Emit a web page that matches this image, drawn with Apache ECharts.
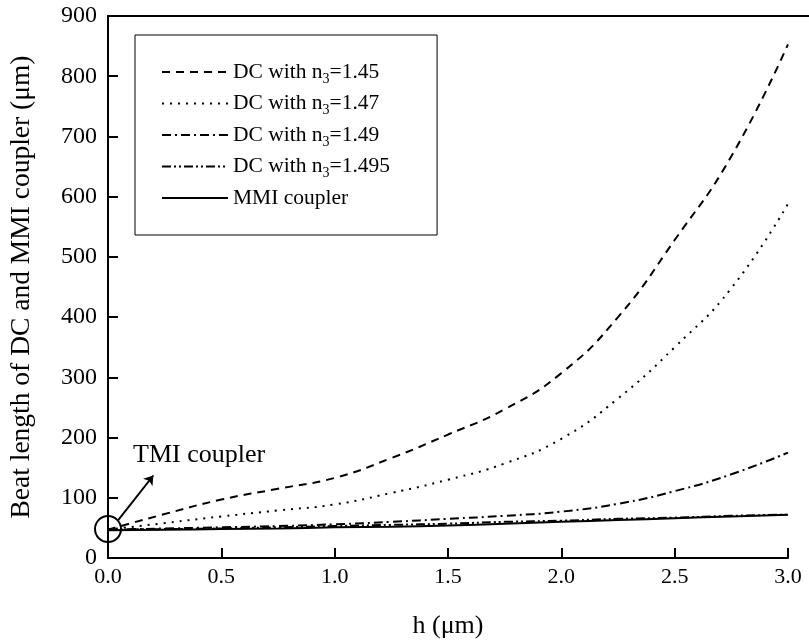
<!DOCTYPE html>
<html>
<head>
<meta charset="utf-8">
<script src="https://cdn.jsdelivr.net/npm/echarts@6/dist/echarts.min.js"></script>
<style>html,body{margin:0;padding:0;background:#fff;}#c{width:809px;height:644px;}</style>
</head>
<body>
<div id="c"></div>
<script>
const hValues = [0, 0.25, 0.5, 0.75, 1.0, 1.25, 1.5, 1.75, 2.0, 2.25, 2.5, 2.75, 3.0];
const dc145 = [47, 73, 97, 115, 133, 166, 205, 247, 307, 400, 528, 667, 853];
const dc147 = [47, 58, 69, 79, 89, 108, 130, 157, 198, 265, 350, 448, 588];
const dc149 = [47, 49, 51, 53, 56, 60, 65, 70, 77, 90, 111, 139, 175];
const dc1495 = [47, 48, 49, 51, 53, 55, 57, 60, 62, 65, 67, 70, 72];
const mmi = [46, 47, 48, 49, 51, 52, 54, 57, 60, 63, 66, 69, 72];
const seriesNames = ['DC with n{sub|3}=1.45', 'DC with n{sub|3}=1.47', 'DC with n{sub|3}=1.49', 'DC with n{sub|3}=1.495', 'MMI coupler'];
const xTicks = ['0.0', '0.5', '1.0', '1.5', '2.0', '2.5', '3.0'];

const FONT = 'Liberation Serif';
function pairs(ys) { return hValues.map((x, i) => [x, ys[i]]); }

const styles = [
  { type: [8, 6], width: 2 },
  { type: [2, 6], width: 2 },
  { type: [9, 4, 2, 4], width: 2 },
  { type: [9, 3, 2, 3, 2, 3], width: 2 },
  { type: 'solid', width: 2 }
];
const allData = [dc145, dc147, dc149, dc1495, mmi];

const chart = echarts.init(document.getElementById('c'), null, { renderer: 'canvas' });
const series = allData.map((d, i) => ({
  name: seriesNames[i],
  type: 'line',
  smooth: 0.5,
  symbol: 'none',
  data: pairs(d),
  lineStyle: { color: '#000', width: styles[i].width, type: styles[i].type },
  itemStyle: { color: 'rgba(0,0,0,0)', borderWidth: 0 },
  z: 3
}));
series[4].markPoint = {
  silent: true,
  symbol: 'circle',
  symbolSize: 26,
  itemStyle: { color: 'rgba(0,0,0,0)', borderColor: '#000', borderWidth: 2 },
  label: { show: false },
  data: [{ coord: [0, 48] }]
};
series[4].markLine = {
  silent: true,
  symbol: ['none', 'arrow'],
  symbolSize: 9,
  lineStyle: { color: '#000', width: 2, type: 'solid' },
  label: { show: false },
  data: [[{ coord: [0.045, 63] }, { coord: [0.2, 137] }]]
};

chart.setOption({
  animation: false,
  backgroundColor: '#fff',
  textStyle: { fontFamily: FONT, color: '#000' },
  grid: { left: 107, right: 21, top: 16, bottom: 84, containLabel: false },
  legend: {
    show: true,
    left: 135,
    top: 35,
    orient: 'vertical',
    icon: 'inherit',
    itemWidth: 66,
    itemHeight: 14,
    itemGap: 6.5,
    padding: [26, 47, 26, 26],
    borderColor: '#000',
    borderWidth: 1,
    selectedMode: false,
    itemStyle: { opacity: 0 },
    textStyle: {
      fontFamily: FONT, fontSize: 21.5, color: '#000',
      rich: { sub: { fontFamily: FONT, fontSize: 14, padding: [14, 0, 0, 0], verticalAlign: 'top' } }
    },
    data: seriesNames
  },
  xAxis: {
    type: 'value',
    min: 0, max: 3, interval: 0.5,
    name: 'h (\u03bcm)',
    nameLocation: 'middle',
    nameGap: 55,
    nameTextStyle: { fontFamily: FONT, fontSize: 26, color: '#000' },
    axisLine: { lineStyle: { color: '#000', width: 2 } },
    axisTick: { inside: true, length: 10, lineStyle: { color: '#000', width: 2 } },
    axisLabel: { fontFamily: FONT, fontSize: 22, color: '#000', margin: 8,
      formatter: v => xTicks[Math.round(v / 0.5)] },
    splitLine: { show: false }
  },
  yAxis: {
    type: 'value',
    min: 0, max: 900, interval: 100,
    name: 'Beat length of DC and MMI coupler (\u03bcm)',
    nameLocation: 'middle',
    nameGap: 72,
    nameTextStyle: { fontFamily: FONT, fontSize: 27.5, color: '#000' },
    axisLine: { show: true, lineStyle: { color: '#000', width: 2 } },
    axisTick: { show: true, inside: true, length: 10, lineStyle: { color: '#000', width: 2 } },
    axisLabel: { fontFamily: FONT, fontSize: 24, color: '#000', margin: 11 },
    splitLine: { show: false }
  },
  graphic: [
    { type: 'line', shape: { x1: 107, y1: 16, x2: 809, y2: 16 }, style: { stroke: '#000', lineWidth: 2 }, z: 10 },
    { type: 'text', left: 133, top: 442, style: { text: 'TMI coupler', font: '26px "Liberation Serif"', fill: '#000' } }
  ],
  series: series
});
</script>
</body>
</html>
